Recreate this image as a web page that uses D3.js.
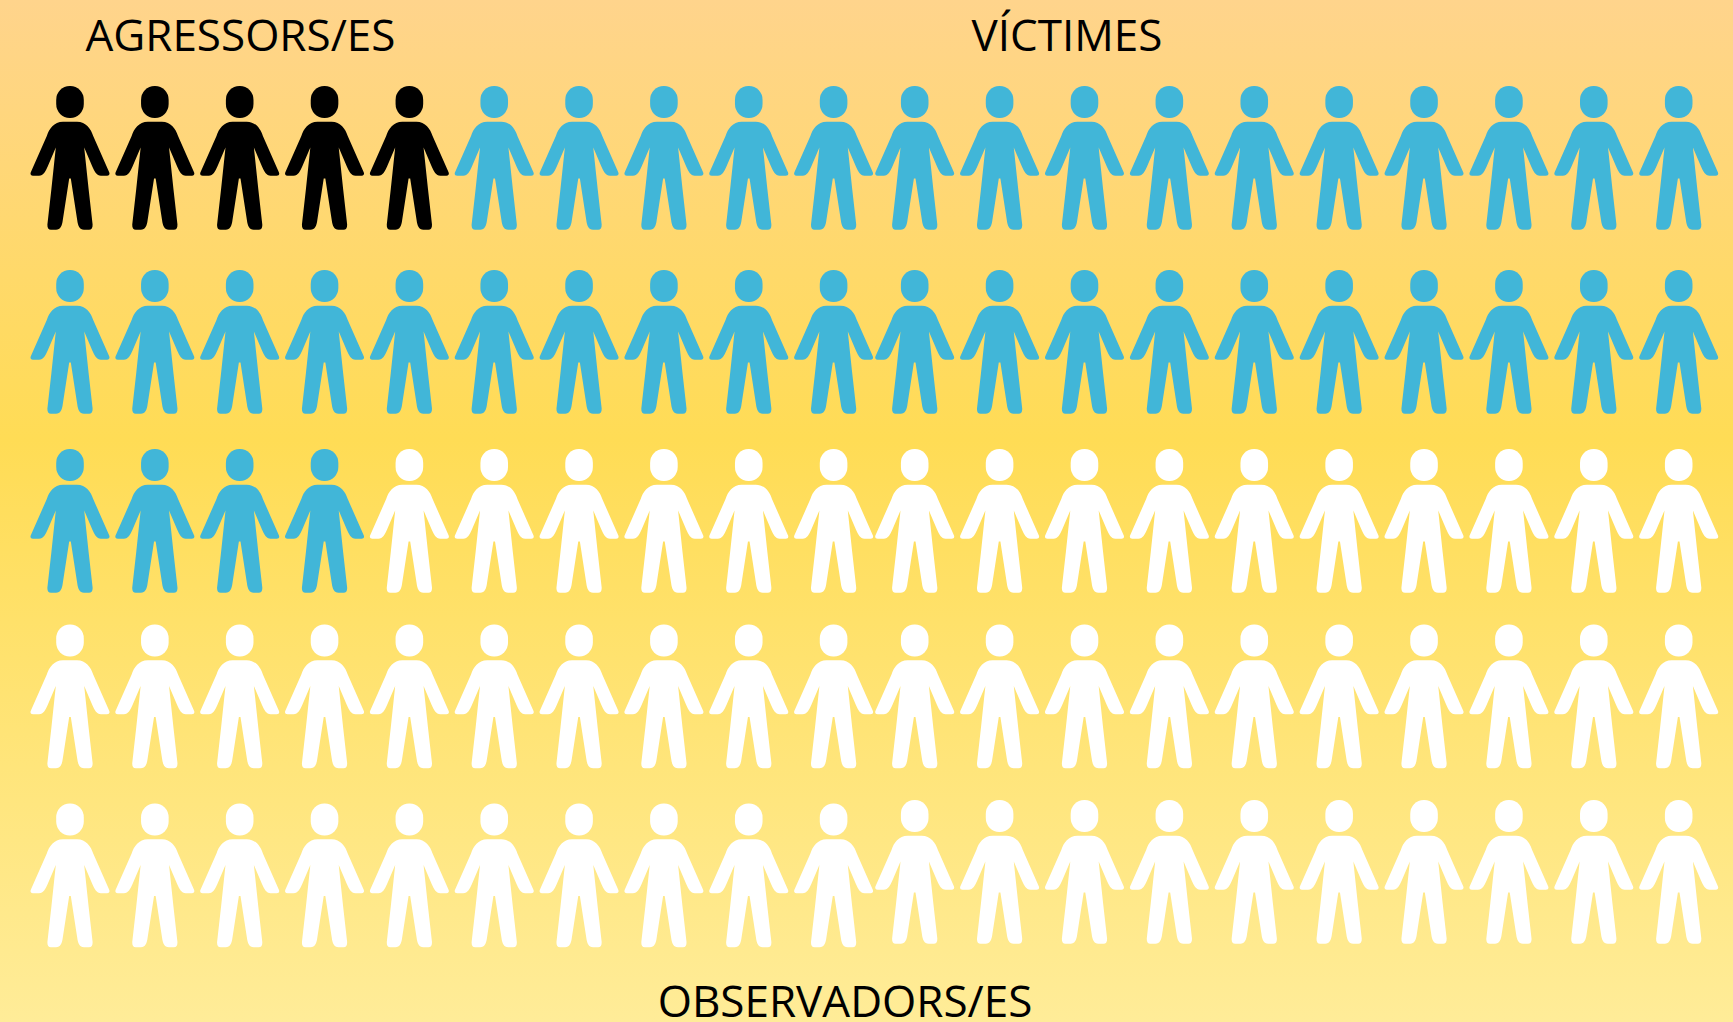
<!DOCTYPE html>
<html><head><meta charset="utf-8">
<script src="https://cdn.jsdelivr.net/npm/d3@7"></script>
<style>html,body{margin:0;padding:0;background:#fff}svg{display:block}</style>
</head><body><div id="chart"></div>
<script>
const groups = ["AGRESSORS/ES", "VÍCTIMES", "OBSERVADORS/ES"];
const counts = [5, 39, 56];
const colors = ["#000000", "#41B6D8", "#FFFFFF"];
const rowIds = [0, 1, 2, 3, 4];
const colIds = d3.range(20);

const W = 1733, H = 1022;
const svg = d3.select("#chart").append("svg").attr("width", W).attr("height", H);
const defs = svg.append("defs");
const grad = defs.append("linearGradient").attr("id", "bg").attr("x1", 0).attr("y1", 0).attr("x2", 0).attr("y2", 1);
[[0, "#FFD48C"], [0.43, "#FFDC55"], [1, "#FFEC98"]].forEach(s => grad.append("stop").attr("offset", s[0]).attr("stop-color", s[1]));
svg.append("rect").attr("width", W).attr("height", H).attr("fill", "url(#bg)");

// people grid: 100 figures, filled row by row
const people = [];
groups.forEach((g, gi) => d3.range(counts[gi]).forEach(() => people.push({group: g})));
people.forEach((p, i) => { p.row = Math.floor(i / colIds.length); p.col = i % colIds.length; });

const xLeft = d3.scaleLinear().domain([0, 9]).range([70, 833.6]);
const xRight = d3.scaleLinear().domain([10, 19]).range([914.7, 1678.7]);
const x = c => c < 10 ? xLeft(c) : xRight(c);
const yTop = d3.scaleOrdinal().domain(rowIds).range([86, 270, 449, 624.5, 803.5]);
const y = (r, c) => yTop(r) - (r === 4 && c >= 10 ? 3.5 : 0);
const color = d3.scaleOrdinal().domain(groups).range(colors);

const body = "M-7 35.7 L7 35.7 C16 35.7 21 43 23.2 50 L39.3 86.5 C40 88.5 39 89.5 37 89.7 L31 89.7 C26.5 89.7 24.5 85.5 22.3 80.5 L14.2 61.5 L18.6 103 L22.6 138.5 C22.8 142 21.5 143.7 19 143.7 L14 143.7 C9.5 143.7 8 140 7.2 134 L0.8 92.5 L-0.8 92.5 L-7.2 134 C-8 140 -9.5 143.7 -14 143.7 L-19 143.7 C-21.5 143.7 -22.8 142 -22.6 138.5 L-18.6 103 L-14.2 61.5 L-22.3 80.5 C-24.5 85.5 -26.5 89.7 -31 89.7 L-37 89.7 C-39 89.5 -40 88.5 -39.3 86.5 L-23.2 50 C-21 43 -16 35.7 -7 35.7 Z";

const gs = svg.append("g").selectAll("g").data(people).join("g")
  .attr("transform", d => `translate(${x(d.col)},${y(d.row, d.col)})`)
  .attr("fill", d => color(d.group));
gs.append("rect").attr("x", -13.8).attr("y", 0).attr("width", 27.6).attr("height", 32).attr("rx", 13.5).attr("ry", 14);
gs.append("path").attr("d", body);

const labelX = d3.scaleOrdinal().domain(groups).range([240.4, 1067, 845]);
const labelY = d3.scaleOrdinal().domain(groups).range([51, 51, 1017]);
svg.append("g").selectAll("text").data(groups).join("text")
  .attr("x", d => labelX(d)).attr("y", d => labelY(d))
  .attr("text-anchor", "middle").attr("fill", "#000")
  .style("font-family", "'Open Sans'").style("font-size", "44px")
  .text(d => d);
</script></body></html>
